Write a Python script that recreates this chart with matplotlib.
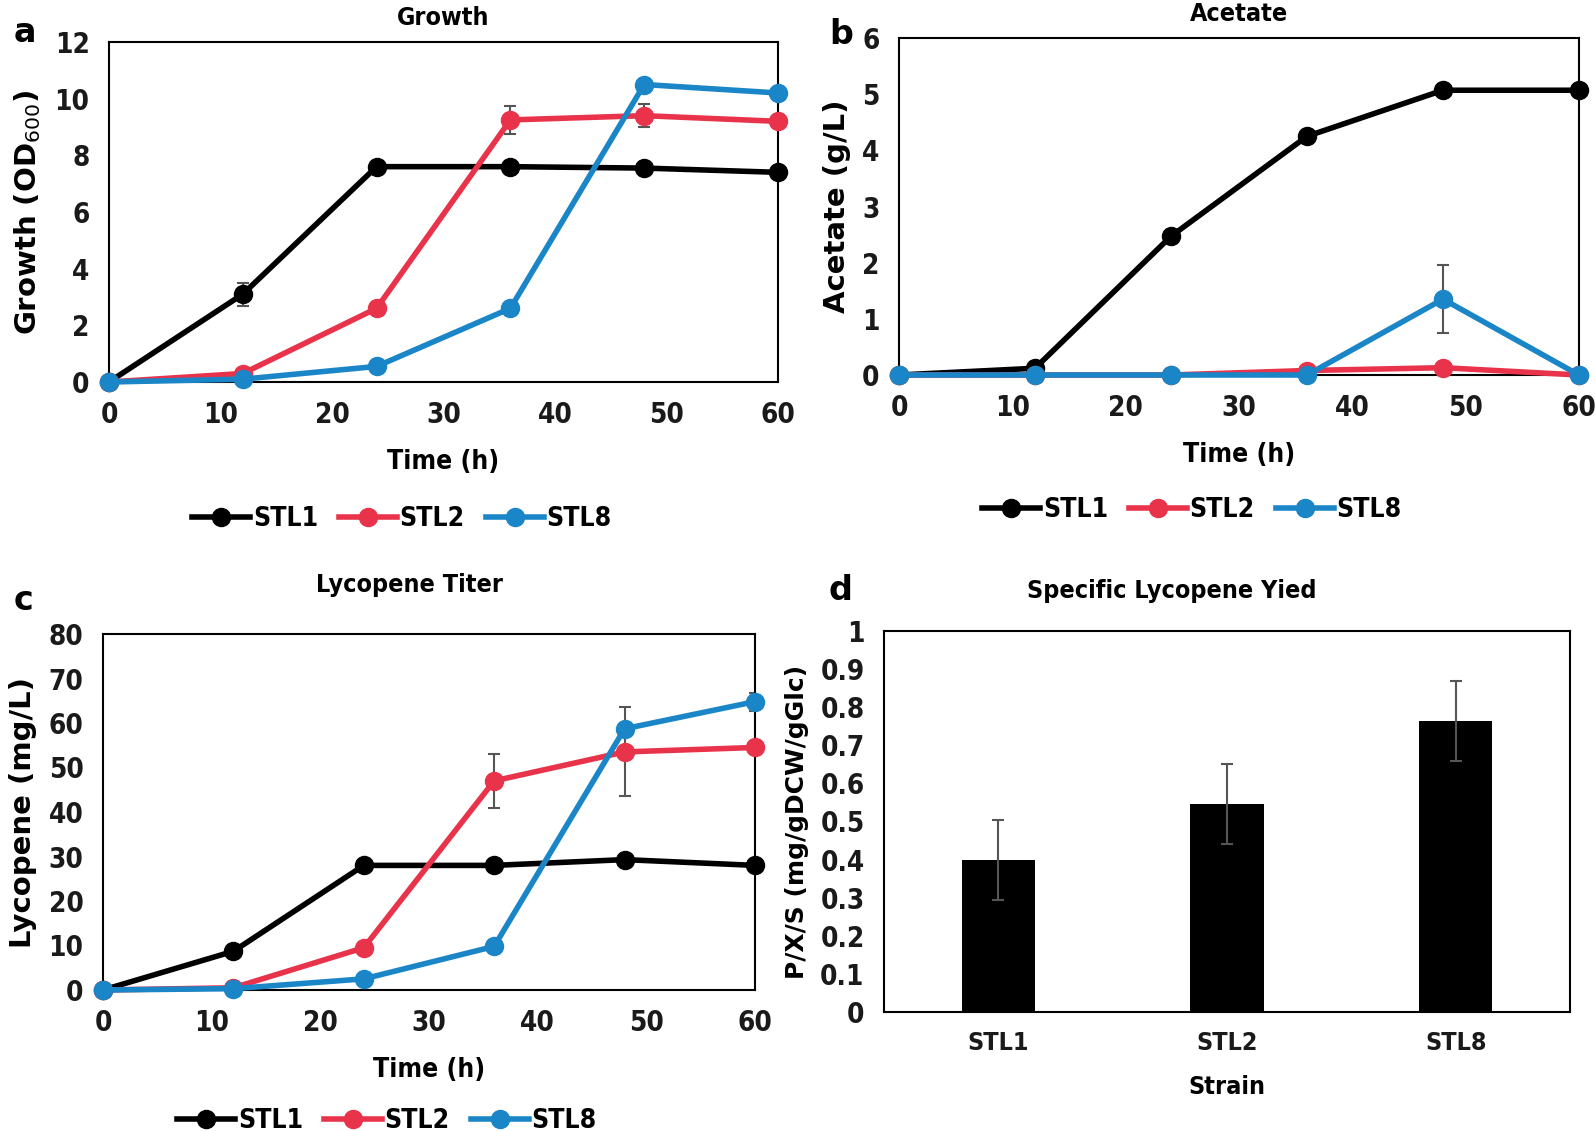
import matplotlib
matplotlib.use("Agg")
import matplotlib.pyplot as plt
from matplotlib.lines import Line2D

# data
time_h = [0, 12, 24, 36, 48, 60]
strains = ["STL1", "STL2", "STL8"]
colors = {"STL1": "#000000", "STL2": "#E8334A", "STL8": "#1A86C8"}

growth = {
    "STL1": [0, 3.1, 7.6, 7.6, 7.55, 7.4],
    "STL2": [0, 0.3, 2.6, 9.25, 9.4, 9.2],
    "STL8": [0, 0.1, 0.55, 2.6, 10.5, 10.2],
}
growth_err = {
    "STL1": [0, 0.4, 0.05, 0.05, 0.05, 0.05],
    "STL2": [0, 0.1, 0.1, 0.5, 0.4, 0.1],
    "STL8": [0, 0.05, 0.2, 0.2, 0.2, 0.1],
}

acetate = {
    "STL1": [0, 0.12, 2.47, 4.25, 5.07, 5.07],
    "STL2": [0, 0, 0, 0.08, 0.13, 0],
    "STL8": [0, 0, 0, 0, 1.35, 0],
}
acetate_err = {
    "STL1": [0, 0, 0.03, 0.05, 0.03, 0.03],
    "STL2": [0, 0, 0, 0.02, 0.03, 0],
    "STL8": [0, 0, 0, 0, 0.6, 0],
}

lycopene = {
    "STL1": [0, 8.7, 28, 28, 29.3, 28],
    "STL2": [0, 0.5, 9.5, 47, 53.5, 54.5],
    "STL8": [0, 0.3, 2.5, 9.8, 58.7, 64.8],
}
lycopene_err = {
    "STL1": [0, 0.5, 0.5, 0.5, 0.5, 0.5],
    "STL2": [0, 0.2, 0.5, 6, 10, 0.5],
    "STL8": [0, 0.2, 0.5, 1.5, 1, 2],
}

yield_vals = [0.40, 0.545, 0.765]
yield_err = [0.105, 0.105, 0.105]

W, H = 1595, 1131
fig = plt.figure(figsize=(W / 100, H / 100), dpi=100)

tick_font = dict(family="DejaVu Sans", stretch="condensed", weight="bold")
label_font = dict(family="DejaVu Sans", weight="bold")


def rect(l, t, r, b):
    return [l / W, 1 - b / H, (r - l) / W, (b - t) / H]


def style_axes(ax, size=20):
    for s in ax.spines.values():
        s.set_linewidth(1.5)
        s.set_color("black")
    ax.tick_params(length=0, pad=14)
    for lab in ax.get_xticklabels() + ax.get_yticklabels():
        lab.set_fontproperties(dict(tick_font, size=size))
        lab.set_color("#1a1a1a")


def line_panel(ax, data, err, ylim, ystep, title, ylabel, tpad=12, tx=0.5):
    for s in strains:
        ax.errorbar(time_h, data[s], yerr=err[s], fmt="none", ecolor="#555555",
                    elinewidth=1.5, capsize=4, capthick=1.5, zorder=2)
        ax.plot(time_h, data[s], color=colors[s], lw=4, marker="o", ms=13,
                clip_on=False, zorder=3)
    ax.set_xlim(0, 60)
    ax.set_ylim(*ylim)
    ax.set_xticks(range(0, 61, 10))
    n = int(round((ylim[1] - ylim[0]) / ystep))
    ax.set_yticks([ylim[0] + i * ystep for i in range(n + 1)])
    ax.set_title(title, fontsize=18, pad=tpad, x=tx, **tick_font)
    ax.set_ylabel(ylabel, fontsize=21, labelpad=8, **label_font)
    ax.set_xlabel("Time (h)", fontsize=19, labelpad=14, **tick_font)
    style_axes(ax)


def add_legend(ax, cx, cy):
    handles = [Line2D([], [], color=colors[s], lw=4, marker="o", ms=13) for s in strains]
    ax.legend(handles, strains, loc="center", bbox_to_anchor=(cx / W, 1 - cy / H),
              bbox_transform=fig.transFigure, ncol=3, frameon=False,
              handlelength=2.2, handletextpad=0.1, columnspacing=0.8,
              prop=dict(tick_font, size=19))


# panel a
ax_a = fig.add_axes(rect(109, 42, 778, 382))
line_panel(ax_a, growth, growth_err, (0, 12), 2, "Growth", "Growth (OD$_{600}$)")
add_legend(ax_a, 402, 519)
fig.text(14 / W, 1 - 32 / H, "a", fontsize=24, fontweight="bold", va="center")

# panel b
ax_b = fig.add_axes(rect(899, 38, 1579, 375))
line_panel(ax_b, acetate, acetate_err, (0, 6), 1, "Acetate", "Acetate (g/L)")
add_legend(ax_b, 1192, 510)
fig.text(829 / W, 1 - 34 / H, "b", fontsize=24, fontweight="bold", va="center")

# panel c
ax_c = fig.add_axes(rect(103, 634, 755, 990))
line_panel(ax_c, lycopene, lycopene_err, (0, 80), 10, "Lycopene Titer", "Lycopene (mg/L)",
           tpad=30, tx=0.47)
add_legend(ax_c, 387, 1121)
fig.text(14 / W, 1 - 600 / H, "c", fontsize=24, fontweight="bold", va="center")

# panel d
ax_d = fig.add_axes(rect(884, 631, 1570, 1012))
ax_d.bar(range(len(strains)), yield_vals, width=0.32, color="black",
         yerr=yield_err, ecolor="#555555", error_kw=dict(elinewidth=1.5, capsize=4, capthick=1.5))
ax_d.set_xlim(-0.5, 2.5)
ax_d.set_ylim(0, 1)
ax_d.set_xticks(range(len(strains)))
ax_d.set_xticklabels(strains)
ax_d.set_yticks([i / 10 for i in range(11)])
ax_d.set_yticklabels(["0"] + [f"{i / 10:.1f}" for i in range(1, 10)] + ["1"])
ax_d.set_title("Specific Lycopene Yied", fontsize=18, pad=24, x=0.42, **tick_font)
ax_d.set_ylabel("P/X/S (mg/gDCW/gGlc)", fontsize=18, labelpad=8, **label_font)
ax_d.set_xlabel("Strain", fontsize=18, labelpad=14, **tick_font)
style_axes(ax_d)
for lab in ax_d.get_xticklabels():
    lab.set_fontsize(18)
fig.text(829 / W, 1 - 590 / H, "d", fontsize=24, fontweight="bold", va="center")

fig.savefig("out.png", dpi=100)
